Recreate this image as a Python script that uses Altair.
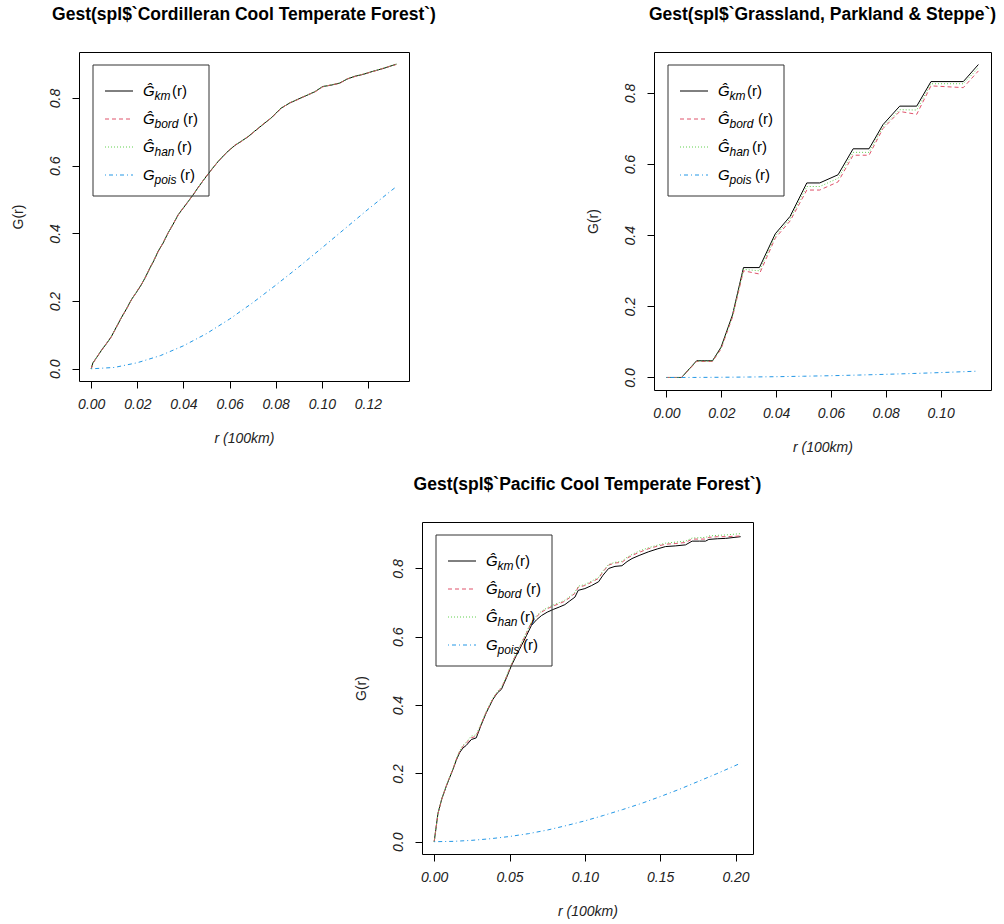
import altair as alt
import pandas as pd

FONT = "Liberation Sans"
C_KM, C_BORD, C_HAN, C_POIS = "#000000", "#DF536B", "#61D04F", "#2297E6"

# ---------------- Panel 1: Cordilleran Cool Temperate Forest ----------------
p1_r = [0.0000, 0.0007, 0.0020, 0.0035, 0.0051, 0.0068, 0.0087, 0.0108, 0.0130, 0.0152,
        0.0174, 0.0196, 0.0217, 0.0236, 0.0254, 0.0272, 0.0290, 0.0312, 0.0333, 0.0355,
        0.0377, 0.0398, 0.0420, 0.0442, 0.0468, 0.0493, 0.0522, 0.0551, 0.0587, 0.0623,
        0.0650, 0.0681, 0.0707, 0.0745, 0.0780, 0.0823, 0.0860, 0.0895, 0.0932, 0.0968,
        0.1004, 0.1040, 0.1077, 0.1110, 0.1142, 0.1180, 0.1222, 0.1270, 0.1323]
p1_km = [0.000, 0.017, 0.030, 0.045, 0.061, 0.076, 0.095, 0.122, 0.150, 0.176,
         0.204, 0.226, 0.248, 0.272, 0.297, 0.320, 0.347, 0.372, 0.401, 0.427,
         0.455, 0.474, 0.494, 0.514, 0.540, 0.563, 0.589, 0.613, 0.639, 0.660,
         0.672, 0.686, 0.701, 0.722, 0.741, 0.770, 0.785, 0.796, 0.807, 0.818,
         0.834, 0.838, 0.844, 0.856, 0.864, 0.870, 0.879, 0.888, 0.900]
p1_bord = [0.000, 0.016, 0.029, 0.046, 0.060, 0.077, 0.094, 0.121, 0.151, 0.175,
           0.203, 0.227, 0.249, 0.271, 0.298, 0.321, 0.346, 0.373, 0.400, 0.428,
           0.454, 0.475, 0.493, 0.515, 0.539, 0.564, 0.588, 0.614, 0.638, 0.661,
           0.671, 0.687, 0.700, 0.723, 0.740, 0.769, 0.786, 0.795, 0.808, 0.817,
           0.833, 0.839, 0.843, 0.857, 0.863, 0.871, 0.878, 0.889, 0.899]
p1_han = [0.000, 0.017, 0.031, 0.045, 0.062, 0.076, 0.096, 0.122, 0.150, 0.177,
          0.204, 0.227, 0.248, 0.273, 0.297, 0.321, 0.347, 0.372, 0.401, 0.428,
          0.455, 0.475, 0.494, 0.515, 0.540, 0.564, 0.589, 0.614, 0.639, 0.661,
          0.672, 0.687, 0.701, 0.723, 0.741, 0.770, 0.786, 0.796, 0.808, 0.818,
          0.834, 0.839, 0.844, 0.857, 0.864, 0.871, 0.879, 0.889, 0.900]
p1_pois_r = [0.000, 0.010, 0.020, 0.030, 0.040, 0.050, 0.060, 0.070, 0.080, 0.090,
             0.100, 0.110, 0.120, 0.130, 0.1325]
p1_pois = [0.000, 0.004, 0.018, 0.039, 0.068, 0.104, 0.147, 0.195, 0.247, 0.301,
           0.357, 0.414, 0.471, 0.526, 0.539]

# ---------------- Panel 2: Grassland, Parkland & Steppe ----------------
p2_r = [0.0000, 0.0055, 0.0110, 0.0168, 0.0199, 0.0241, 0.0281, 0.0339, 0.0397, 0.0451,
        0.0512, 0.0559, 0.0626, 0.0681, 0.0739, 0.0790, 0.0851, 0.0913, 0.0965, 0.1083,
        0.1138]
p2_km = [0.000, 0.000, 0.047, 0.047, 0.085, 0.176, 0.309, 0.309, 0.404, 0.453,
         0.547, 0.547, 0.570, 0.643, 0.643, 0.711, 0.763, 0.763, 0.832, 0.832,
         0.880]
p2_bord = [0.000, 0.000, 0.045, 0.045, 0.080, 0.170, 0.300, 0.291, 0.392, 0.440,
           0.527, 0.527, 0.550, 0.625, 0.625, 0.700, 0.748, 0.740, 0.820, 0.815,
           0.862]
p2_han = [0.000, 0.000, 0.046, 0.046, 0.083, 0.173, 0.304, 0.300, 0.398, 0.446,
          0.537, 0.537, 0.560, 0.633, 0.633, 0.705, 0.753, 0.752, 0.826, 0.826,
          0.871]
p2_pois_r = [0.000, 0.010, 0.020, 0.030, 0.040, 0.050, 0.060, 0.070, 0.080, 0.090,
             0.100, 0.110, 0.1138]
p2_pois = [0.0000, 0.0001, 0.0006, 0.0013, 0.0022, 0.0035, 0.0050, 0.0068, 0.0089, 0.0112,
           0.0138, 0.0167, 0.0179]

# ---------------- Panel 3: Pacific Cool Temperate Forest ----------------
p3_r = [0.0000, 0.0025, 0.0050, 0.0080, 0.0100, 0.0124, 0.0146, 0.0168, 0.0190, 0.0213,
        0.0246, 0.0279, 0.0310, 0.0346, 0.0390, 0.0420, 0.0446, 0.0480, 0.0512, 0.0545,
        0.0579, 0.0612, 0.0645, 0.0680, 0.0712, 0.0750, 0.0790, 0.0830, 0.0867, 0.0900,
        0.0934, 0.0956, 0.1000, 0.1045, 0.1091, 0.1120, 0.1158, 0.1200, 0.1246, 0.1280,
        0.1313, 0.1360, 0.1424, 0.1480, 0.1535, 0.1600, 0.1668, 0.1712, 0.1760, 0.1801,
        0.1823, 0.1880, 0.1934, 0.2034]
p3_km = [0.000, 0.083, 0.125, 0.162, 0.185, 0.211, 0.238, 0.260, 0.274, 0.282,
         0.299, 0.304, 0.340, 0.378, 0.417, 0.436, 0.446, 0.480, 0.515, 0.545,
         0.574, 0.603, 0.633, 0.650, 0.662, 0.672, 0.680, 0.687, 0.694, 0.705,
         0.716, 0.736, 0.741, 0.750, 0.761, 0.780, 0.800, 0.806, 0.808, 0.820,
         0.829, 0.838, 0.849, 0.857, 0.864, 0.866, 0.869, 0.880, 0.880, 0.880,
         0.885, 0.887, 0.888, 0.893]
p3_bord = [0.000, 0.082, 0.124, 0.163, 0.186, 0.212, 0.240, 0.263, 0.279, 0.288,
           0.304, 0.309, 0.342, 0.380, 0.419, 0.438, 0.450, 0.483, 0.518, 0.550,
           0.580, 0.610, 0.641, 0.659, 0.672, 0.682, 0.690, 0.697, 0.704, 0.715,
           0.727, 0.745, 0.750, 0.760, 0.771, 0.790, 0.810, 0.816, 0.818, 0.830,
           0.838, 0.847, 0.858, 0.865, 0.871, 0.873, 0.876, 0.886, 0.886, 0.886,
           0.891, 0.893, 0.893, 0.895]
p3_han = [0.000, 0.083, 0.126, 0.164, 0.187, 0.213, 0.242, 0.265, 0.282, 0.292,
          0.309, 0.313, 0.345, 0.382, 0.421, 0.440, 0.452, 0.485, 0.520, 0.552,
          0.583, 0.613, 0.644, 0.662, 0.675, 0.685, 0.693, 0.700, 0.707, 0.718,
          0.730, 0.748, 0.753, 0.763, 0.774, 0.793, 0.812, 0.818, 0.821, 0.833,
          0.841, 0.851, 0.861, 0.868, 0.874, 0.877, 0.880, 0.889, 0.890, 0.891,
          0.895, 0.897, 0.898, 0.902]
p3_pois_r = [0.0000, 0.0125, 0.0250, 0.0375, 0.0500, 0.0625, 0.0750, 0.0875, 0.1000, 0.1125,
             0.1250, 0.1375, 0.1500, 0.1625, 0.1750, 0.1875, 0.2035]
p3_pois = [0.000, 0.001, 0.004, 0.0088, 0.0152, 0.0235, 0.034, 0.047, 0.061, 0.077,
           0.094, 0.112, 0.132, 0.153, 0.176, 0.199, 0.230]

Y_TICKS = [0.0, 0.2, 0.4, 0.6, 0.8]
LEGEND_SUBS = ["km", "bord", "han", "pois"]
LEGEND_HAT = ["Ĝ", "Ĝ", "Ĝ", "G"]

ONE = pd.DataFrame({"k": [0]})


def legend_layers():
    out = []
    box = alt.Chart(ONE).mark_rect(fillOpacity=0, stroke="#333333", strokeWidth=1).encode(
        x=alt.value(14), x2=alt.value(130), y=alt.value(13), y2=alt.value(144))
    out.append(box)
    rows_y = [39, 67, 95, 123]
    colors = [C_KM, C_BORD, C_HAN, C_POIS]
    dashes = [None, [4, 3], [1, 2], [1, 3, 4, 3]]
    r_x = [93, 104, 98, 101]
    for i in range(4):
        kw = dict(color=colors[i], strokeWidth=1)
        if dashes[i]:
            kw["strokeDash"] = dashes[i]
        out.append(alt.Chart(ONE).mark_rule(**kw).encode(
            x=alt.value(26), x2=alt.value(54), y=alt.value(rows_y[i])))
        out.append(alt.Chart(ONE).mark_text(
            text=LEGEND_HAT[i], font=FONT, fontSize=15, fontStyle="italic",
            align="left", baseline="middle", color="#000000").encode(
            x=alt.value(64), y=alt.value(rows_y[i])))
        out.append(alt.Chart(ONE).mark_text(
            text=LEGEND_SUBS[i], font=FONT, fontSize=12, fontStyle="italic",
            align="left", baseline="middle", color="#000000").encode(
            x=alt.value(75.5), y=alt.value(rows_y[i] + 5)))
        out.append(alt.Chart(ONE).mark_text(
            text="(r)", font=FONT, fontSize=15, align="left", baseline="middle",
            color="#000000").encode(
            x=alt.value(r_x[i]), y=alt.value(rows_y[i])))
    return out


def panel(title, r, km, bord, han, pr, pois, xdom, ydom, xticks, xfmt, w, h):
    xenc = alt.X("r:Q", scale=alt.Scale(domain=xdom, nice=False, zero=False),
                 axis=alt.Axis(values=xticks, format=xfmt, title="r (100km)", grid=False,
                               labelFontStyle="italic", titleFontStyle="italic",
                               labelPadding=9, titlePadding=20))
    yenc = alt.Y("G:Q", scale=alt.Scale(domain=ydom, nice=False, zero=False),
                 axis=alt.Axis(values=Y_TICKS, format=".1f", title="G(r)", grid=False,
                               labelAngle=270, labelAlign="center",
                               labelBaseline="alphabetic", labelPadding=13,
                               labelFontStyle="italic", titlePadding=23))
    layers = []
    specs = [(r, km, C_KM, None), (r, bord, C_BORD, [4, 3]),
             (r, han, C_HAN, [1, 2]), (pr, pois, C_POIS, [1, 3, 4, 3])]
    for rr, gg, col, dash in specs:
        kw = dict(color=col, strokeWidth=1, clip=True)
        if dash:
            kw["strokeDash"] = dash
        layers.append(alt.Chart(pd.DataFrame({"r": rr, "G": gg})).mark_line(**kw)
                      .encode(x=xenc, y=yenc))
    layers += legend_layers()
    return alt.layer(*layers).properties(
        width=w, height=h,
        title=alt.TitleParams(title, font=FONT, fontSize=17.5, fontWeight="bold",
                              anchor="middle", baseline="alphabetic", offset=15,
                              color="#000000"))


c1 = panel("Gest(spl$`Cordilleran Cool Temperate Forest`)", p1_r, p1_km, p1_bord, p1_han,
           p1_pois_r, p1_pois, [-0.0053, 0.1378], [-0.036, 0.936],
           [0, 0.02, 0.04, 0.06, 0.08, 0.10, 0.12], ".2f", 330, 329)
c2 = panel("Gest(spl$`Grassland, Parkland & Steppe`)", p2_r, p2_km, p2_bord, p2_han,
           p2_pois_r, p2_pois, [-0.00455, 0.1184], [-0.0352, 0.9152],
           [0, 0.02, 0.04, 0.06, 0.08, 0.10], ".2f", 337, 338)
c3 = panel("Gest(spl$`Pacific Cool Temperate Forest`)", p3_r, p3_km, p3_bord, p3_han,
           p3_pois_r, p3_pois, [-0.0081, 0.2116], [-0.036, 0.936],
           [0, 0.05, 0.10, 0.15, 0.20], ".2f", 331, 332)

spacer = alt.Chart(ONE).mark_point(opacity=0).encode(
    x=alt.value(0), y=alt.value(0)).properties(width=100, height=10,
                                               view=alt.ViewBackground(stroke=None))

top = alt.hconcat(c1, c2, spacing=245, bounds="flush")
bottom = alt.hconcat(spacer, c3, spacing=243, bounds="flush")
chart = alt.vconcat(top, bottom, spacing=20).properties(
    padding={"left": 10, "top": 5, "right": 0, "bottom": 0},
    background="white"
).configure_view(stroke="#000000", strokeWidth=1).configure_axis(
    labelFont=FONT, titleFont=FONT, labelFontSize=14, titleFontSize=14,
    labelColor="#222222", titleColor="#222222", titleFontWeight="normal",
    tickColor="#000000", tickSize=7, domain=False, grid=False
)

chart.save("out.html", embed_options={"renderer": "svg", "actions": False})
